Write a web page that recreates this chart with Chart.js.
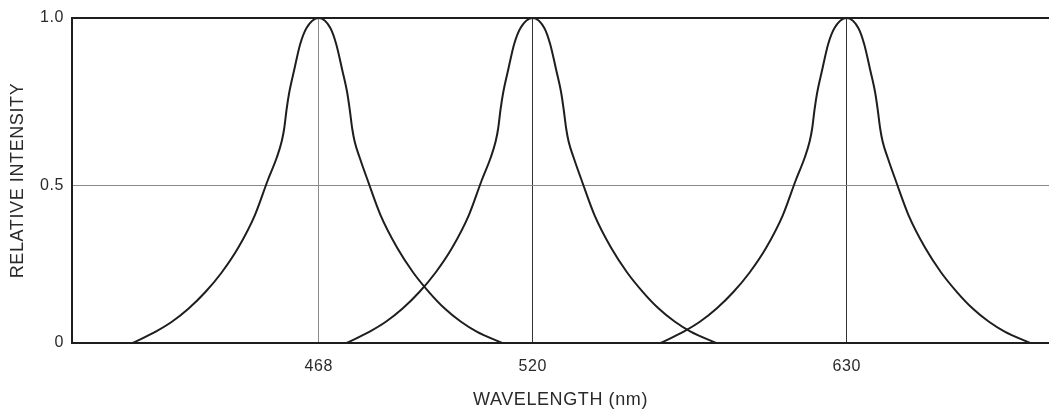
<!DOCTYPE html>
<html>
<head>
<meta charset="utf-8">
<script src="https://cdn.jsdelivr.net/npm/chart.js@4.4.1/dist/chart.umd.min.js"></script>
<style>
  html, body { margin: 0; padding: 0; background: #ffffff; }
  canvas { display: block; }
</style>
</head>
<body>
<canvas id="c" width="1049" height="415"></canvas>
<script>
// ---- data (x in relative axis units 0..100, schematic wavelength axis) ----
const xTickLabels = ['468', '520', '630'];
const peakPositions = [25.25, 47.15, 79.29];
const yTickValues = [0, 0.484, 1];   // the "0.5" rule sits slightly low in the original figure
const yTickLabels = ['0', '0.5', '1.0'];

// emission-line profile (offset from peak, relative intensity)
const leftOffsets  = [-19.04, -16.68, -14.99, -13.31, -11.62, -9.93, -8.24, -6.55, -5.22, -4.30, -3.79, -3.53, -3.28, -3.02, -2.51, -1.89, -1.23, 0];
const leftLevels   = [0, 0.035, 0.066, 0.106, 0.156, 0.217, 0.293, 0.392, 0.5, 0.57, 0.62, 0.66, 0.72, 0.77, 0.84, 0.92, 0.97, 1.0];
const rightOffsets = [1.18, 1.79, 2.41, 2.92, 3.17, 3.43, 3.68, 4.20, 5.02, 6.35, 8.03, 9.67, 11.31, 12.90, 14.53, 16.17, 18.78];
const rightLevels  = [0.97, 0.92, 0.84, 0.77, 0.72, 0.66, 0.62, 0.57, 0.5, 0.392, 0.293, 0.217, 0.156, 0.106, 0.066, 0.035, 0];

function profileAt(peak) {
  const pts = [];
  leftOffsets.forEach((o, i) => pts.push({ x: peak + o, y: leftLevels[i] }));
  rightOffsets.forEach((o, i) => pts.push({ x: peak + o, y: rightLevels[i] }));
  return pts;
}

const INK = '#1e1e1e';
const GREY = '#8a8a8a';

Chart.defaults.font.family = '"Liberation Sans", Arial, Helvetica, sans-serif';
Chart.defaults.color = '#2a2a2a';

const spacing = {
  id: 'spacing',
  beforeLayout(chart) { chart.ctx.letterSpacing = '0.6px'; },
  beforeDraw(chart) { chart.ctx.letterSpacing = '0.6px'; }
};

new Chart(document.getElementById('c'), {
  type: 'line',
  data: {
    datasets: peakPositions.map((p, i) => ({
      label: xTickLabels[i],
      data: profileAt(p),
      borderColor: INK,
      borderWidth: 2,
      pointRadius: 0,
      fill: false,
      cubicInterpolationMode: 'monotone'
    }))
  },
  options: {
    responsive: false,
    animation: false,
    devicePixelRatio: 1,
    layout: { padding: { top: 18, left: 0, right: 0, bottom: 0 } },
    plugins: { legend: { display: false }, tooltip: { enabled: false } },
    scales: {
      x: {
        type: 'linear',
        min: 0,
        max: 100,
        afterBuildTicks(scale) { scale.ticks = peakPositions.map(v => ({ value: v })); },
        afterFit(scale) { scale.height = 72; },
        ticks: {
          autoSkip: false,
          maxRotation: 0,
          padding: 14,
          font: { size: 16 },
          callback: (v, i) => xTickLabels[i]
        },
        grid: {
          drawTicks: false,
          color: (ctx) => (ctx.index === 0 ? GREY : '#333333'),
          lineWidth: 1
        },
        border: { display: true, color: INK, width: 2 },
        title: {
          display: true,
          text: 'WAVELENGTH (nm)',
          font: { size: 18 },
          padding: { top: 0, bottom: 4 }
        }
      },
      y: {
        type: 'linear',
        min: 0,
        max: 1,
        afterBuildTicks(scale) { scale.ticks = yTickValues.map(v => ({ value: v })); },
        afterFit(scale) { scale.width = 72; },
        ticks: {
          padding: 8,
          font: { size: 16 },
          callback: (v, i) => yTickLabels[i]
        },
        grid: {
          drawTicks: false,
          color: (ctx) => (ctx.index === 1 ? GREY : INK),
          lineWidth: (ctx) => (ctx.index === 1 ? 1 : 2)
        },
        border: { display: true, color: INK, width: 2 },
        title: {
          display: true,
          text: 'RELATIVE INTENSITY',
          font: { size: 18 },
          padding: { top: 7, bottom: 0 }
        }
      }
    }
  },
  plugins: [spacing]
});
</script>
</body>
</html>
